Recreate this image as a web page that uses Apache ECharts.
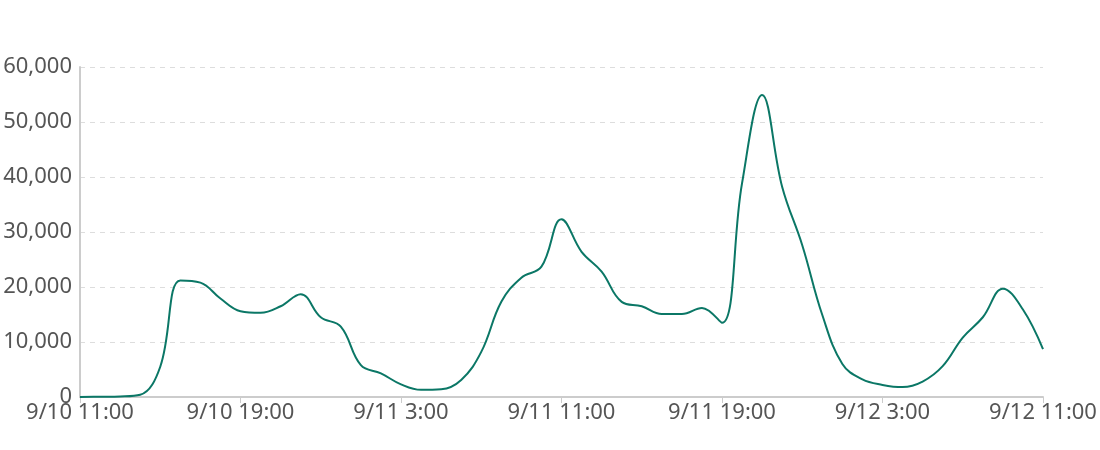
<!DOCTYPE html>
<html>
<head>
<meta charset="utf-8">
<script src="https://cdn.jsdelivr.net/npm/echarts@6/dist/echarts.min.js"></script>
<style>
  html, body { margin: 0; padding: 0; background: #fff; }
  #chart { width: 1100px; height: 450px; }
</style>
</head>
<body>
<div id="chart"></div>
<script>
// hourly points, 9/10 11:00 -> 9/12 11:00
const days = ['9/10', '9/11', '9/12']
const startHour = 11
const values = [
  0, 50, 100, 400, 5500, 21200, 20800, 17900, 15600, 15300,
  16500, 18700, 14500, 12800, 5800, 4300, 2300, 1300, 1400, 3100,
  8200, 17300, 21700, 23700, 32300, 26400, 22800, 17300, 16500, 15100,
  15100, 16200, 13500, 38900, 54900, 38200, 27600, 14900, 6000, 3200,
  2200, 1800, 2800, 5600, 10800, 14500, 19700, 15900, 8700,
]
const yTicks = [0, 10000, 20000, 30000, 40000, 50000, 60000]

const categories = values.map((_, i) => {
  const h = startHour + i
  return `${days[Math.floor(h / 24)]} ${h % 24}:00`
})

const chart = echarts.init(document.getElementById('chart'))
chart.setOption({
  animation: false,
  grid: { left: 80, right: 57, top: 67, bottom: 53 },
  xAxis: {
    type: 'category',
    data: categories,
    boundaryGap: false,
    axisLine: { lineStyle: { color: '#cccccc', width: 2 } },
    axisTick: { interval: 7, length: 6, lineStyle: { color: '#cccccc' } },
    axisLabel: { interval: 7, color: '#555', fontSize: 22, fontFamily: 'Noto Sans', margin: 5 },
    splitLine: { show: false },
  },
  yAxis: {
    type: 'value',
    min: yTicks[0],
    max: yTicks[yTicks.length - 1],
    interval: 10000,
    axisLine: { show: true, lineStyle: { color: '#cccccc', width: 2 } },
    axisTick: { show: false },
    axisLabel: {
      color: '#555', fontSize: 22, fontFamily: 'Noto Sans', margin: 8,
      formatter: (v) => v.toLocaleString('en-US'),
    },
    splitLine: { lineStyle: { color: '#dddddd', type: [5, 5] } },
  },
  series: [{
    type: 'line',
    data: values,
    smooth: 0.4,
    showSymbol: false,
    lineStyle: { color: '#0b7766', width: 2 },
  }],
})
</script>
</body>
</html>
